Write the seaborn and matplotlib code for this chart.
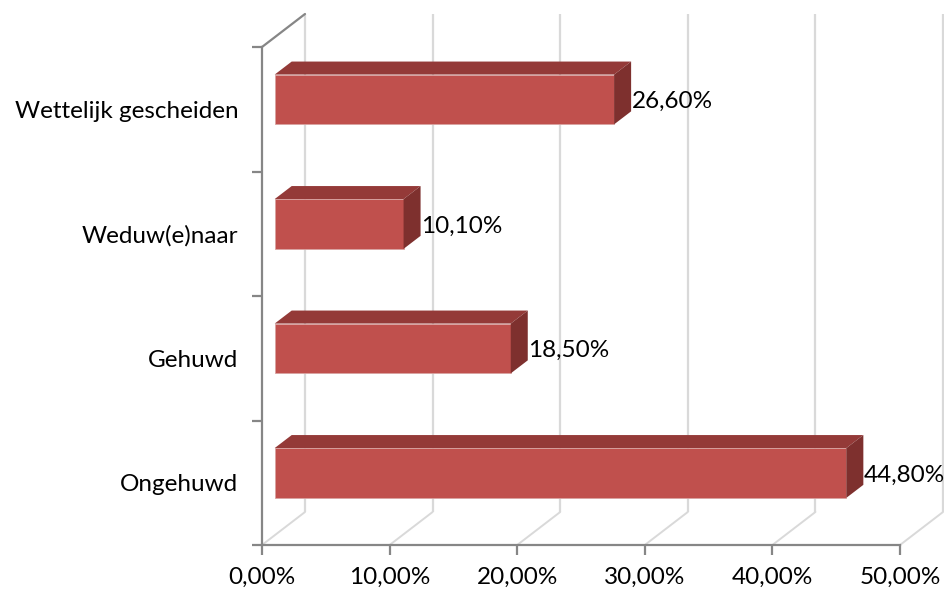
import pandas as pd
import matplotlib
matplotlib.use("Agg")
import matplotlib.pyplot as plt
from matplotlib.patches import Polygon
from matplotlib.transforms import ScaledTranslation
import seaborn as sns

# Data
categories = ["Wettelijk gescheiden", "Weduw(e)naar", "Gehuwd", "Ongehuwd"]
percentages = [26.6, 10.1, 18.5, 44.8]
value_labels = ["26,60%", "10,10%", "18,50%", "44,80%"]
x_ticks = [0, 10, 20, 30, 40, 50]
x_tick_labels = ["0,00%", "10,00%", "20,00%", "30,00%", "40,00%", "50,00%"]

df = pd.DataFrame({"category": categories, "pct": percentages})

sns.set_style("white")
plt.rcParams["font.family"] = ["Lato", "DejaVu Sans"]

W, H, DPI = 944, 592, 100
FS = 17.5
fig = plt.figure(figsize=(W / DPI, H / DPI), dpi=DPI)
ax = fig.add_axes([262 / W, 47 / H, (900 - 262) / W, (545 - 47) / H])

bar_red = "#C0504D"
top_red = "#943A38"
side_red = "#7E302E"
axis_grey = "#868686"
grid_grey = "#D9D9D9"

sns.barplot(data=df, x="pct", y="category", order=categories, orient="h",
            color=bar_red, width=0.4, saturation=1, ax=ax, zorder=3)
ax.set_xlim(0, 50)
ax.set_ylim(3.5, -0.5)

# pixel -> data conversions for the fake 3D depth
px_x = (900 - 262) / 50.0
px_y = (545 - 47) / 4.0
dpi_tr = fig.dpi_scale_trans
front = ax.transData + ScaledTranslation(12.7 / DPI, 9.8 / DPI, dpi_tr)
back = ax.transData + ScaledTranslation(43 / DPI, 33 / DPI, dpi_tr)
ddx, ddy = 17 / px_x, 13 / px_y
bdx, bdy = 43 / px_x, 33 / px_y

# back wall gridlines
ax.vlines(x_ticks, -0.5, 3.5, colors=grid_grey, lw=1.6, transform=back,
          clip_on=False, zorder=0.5)
# floor lines
for xt in x_ticks:
    ax.plot([xt, xt + bdx], [3.5, 3.5 - bdy], color=grid_grey, lw=1.4,
            clip_on=False, zorder=0.6)
# top-left side edge
ax.plot([0, bdx], [-0.5, -0.5 - bdy], color=axis_grey, lw=1.6,
        clip_on=False, zorder=1)

# 3D faces of bars
for p, lab in zip(ax.patches, value_labels):
    w = p.get_width()
    y0 = p.get_y()
    y1 = y0 + p.get_height()
    p.set_transform(front)
    p.set_edgecolor("#D9A3A1")
    p.set_linewidth(0.6)
    p.set_clip_on(False)
    top = Polygon([(0, y0), (w, y0), (w + ddx, y0 - ddy), (ddx, y0 - ddy)],
                  closed=True, facecolor=top_red, edgecolor="none",
                  transform=front, clip_on=False, zorder=3)
    side = Polygon([(w, y0), (w, y1), (w + ddx, y1 - ddy), (w + ddx, y0 - ddy)],
                   closed=True, facecolor=side_red, edgecolor="none",
                   transform=front, clip_on=False, zorder=3)
    ax.add_patch(top)
    ax.add_patch(side)
    ax.text(w + ddx, (y0 + y1) / 2, lab, ha="left", va="center",
            fontsize=FS, color="black",
            transform=ax.transData + ScaledTranslation(13 / DPI, 7.5 / DPI, dpi_tr))

# axes styling
for s in ["top", "right"]:
    ax.spines[s].set_visible(False)
for s in ["left", "bottom"]:
    ax.spines[s].set_color(axis_grey)
    ax.spines[s].set_linewidth(1.6)

ax.set_xticks(x_ticks)
ax.set_xticklabels(x_tick_labels, fontsize=FS)
ax.set_yticks([-0.5, 0.5, 1.5, 2.5, 3.5])
ax.set_yticklabels([])
ax.set_yticks([0, 1, 2, 3], minor=True)
ax.set_yticklabels(categories, minor=True, fontsize=FS)
ax.tick_params(axis="x", which="major", bottom=True, direction="out", length=7,
               width=1.6, color=axis_grey, labelcolor="black", pad=9)
ax.tick_params(axis="y", which="major", left=True, direction="out", length=7,
               width=1.6, color=axis_grey)
ax.tick_params(axis="y", which="minor", left=True, length=0, pad=17,
               labelcolor="black")
ax.set_xlabel("")
ax.set_ylabel("")
ax.grid(False)

fig.savefig("out.png", dpi=DPI, facecolor="white")
